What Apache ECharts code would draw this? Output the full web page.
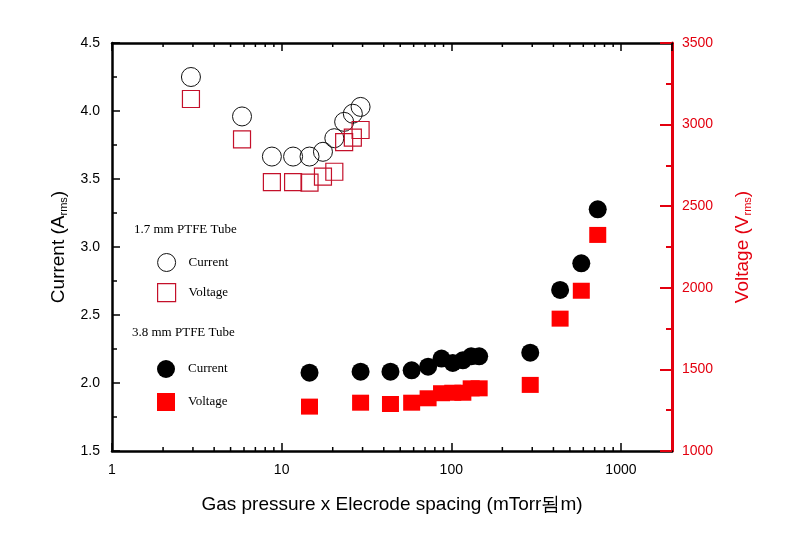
<!DOCTYPE html>
<html>
<head>
<meta charset="utf-8">
<script src="https://cdn.jsdelivr.net/npm/echarts@6/dist/echarts.min.js"></script>
<style>html,body{margin:0;padding:0;background:#fff;}#c{width:802px;height:540px;}</style>
</head>
<body>
<div id="c"></div>
<script>
// 1.7 mm PTFE tube
const x17 = [2.92, 5.84, 8.76, 11.68, 14.6, 17.52, 20.44, 23.36, 26.28, 29.2];
const cur17 = [4.25, 3.96, 3.665, 3.665, 3.665, 3.70, 3.80, 3.92, 3.98, 4.03];
const vol17 = [3157, 2910, 2648, 2648, 2644, 2681, 2711, 2893, 2920, 2967];
// 3.8 mm PTFE tube
const x38 = [14.6, 29.2, 43.8, 58.4, 73, 87.6, 102, 117, 131, 146, 292, 438, 584, 730];
const cur38 = [2.076, 2.083, 2.083, 2.093, 2.12, 2.18, 2.147, 2.167, 2.196, 2.196, 2.223, 2.684, 2.88, 3.277];
const vol38 = [1272, 1296, 1288, 1296, 1323, 1354, 1357, 1357, 1384, 1384, 1405, 1811, 1982, 2324];
// axis ticks
const xMinorTicks = [2,3,4,5,6,7,8,9,20,30,40,50,60,70,80,90,200,300,400,500,600,700,800,900];
const xRange = [1, 2000];
const curRange = [1.5, 4.5];
const volRange = [1000, 3500];

const RED = '#e3000f';
const pair = (xs, ys) => xs.map((x, i) => [x, ys[i]]);

const chart = echarts.init(document.getElementById('c'), null, {renderer: 'canvas'});
const serif = "'Liberation Serif', 'Times New Roman', serif";
const sans = "'Liberation Sans', Arial, sans-serif";

chart.setOption({
  backgroundColor: '#fff',
  animation: false,
  title: [
    {text: '1.7 mm PTFE Tube', left: 134, top: 223, padding: 0,
     textStyle: {fontFamily: serif, fontSize: 13, fontWeight: 'normal', color: '#000'}},
    {text: '3.8 mm PTFE Tube', left: 132, top: 326, padding: 0,
     textStyle: {fontFamily: serif, fontSize: 13, fontWeight: 'normal', color: '#000'}}
  ],
  legend: [
    {left: 157, top: 253, orient: 'vertical', padding: 0, itemWidth: 18, itemHeight: 18, itemGap: 11,
     formatter: n => n.split(' ')[0],
     textStyle: {fontFamily: serif, fontSize: 13, color: '#000', padding: [0, 0, 0, 8]},
     data: [
       {name: 'Current 1.7', icon: 'circle', itemStyle: {color: 'rgba(0,0,0,0)', borderColor: '#111', borderWidth: 1}},
       {name: 'Voltage 1.7', icon: 'rect', itemStyle: {color: 'rgba(0,0,0,0)', borderColor: '#c4102a', borderWidth: 1.2}}
     ]},
    {left: 157, top: 360, orient: 'vertical', padding: 0, itemWidth: 18, itemHeight: 18, itemGap: 15,
     formatter: n => n.split(' ')[0],
     textStyle: {fontFamily: serif, fontSize: 13, color: '#000', padding: [0, 0, 0, 8]},
     data: [
       {name: 'Current 3.8', icon: 'circle', itemStyle: {color: '#000', opacity: 1}},
       {name: 'Voltage 3.8', icon: 'rect', itemStyle: {color: '#ff0000', opacity: 1}}
     ]}
  ],
  grid: {left: 112, right: 130, top: 43, bottom: 89, containLabel: false},
  xAxis: [
    {type: 'log', logBase: 10, min: xRange[0], max: xRange[1], position: 'bottom',
     name: 'Gas pressure x Elecrode spacing (mTorr됨m)', nameLocation: 'middle', nameGap: 44,
     nameTextStyle: {fontFamily: sans, fontSize: 19, color: '#000'},
     axisLine: {lineStyle: {color: '#000', width: 2.5}},
     axisTick: {inside: true, length: 8, lineStyle: {color: '#000', width: 1.5}},
     axisLabel: {fontFamily: sans, fontSize: 14, color: '#000', margin: 12, showMaxLabel: false,
       formatter: v => String(Math.round(v))},
     splitLine: {show: false}},
    {type: 'log', logBase: 10, min: xRange[0], max: xRange[1], position: 'top',
     axisLine: {lineStyle: {color: '#000', width: 2.5}},
     axisTick: {inside: true, length: 8, lineStyle: {color: '#000', width: 1.5}},
     axisLabel: {show: false},
     splitLine: {show: false}}
  ],
  yAxis: [
    {type: 'value', min: curRange[0], max: curRange[1], interval: 0.5, position: 'left',
     name: 'Current (A{sub|rms})', nameLocation: 'middle', nameGap: 41, nameRotate: 90,
     nameTextStyle: {fontFamily: sans, fontSize: 19, color: '#000',
       rich: {sub: {fontFamily: sans, fontSize: 11, color: '#000', padding: [10, 0, 0, 0]}}},
     axisLine: {show: true, lineStyle: {color: '#000', width: 2.5}},
     axisTick: {inside: true, length: 8, lineStyle: {color: '#000', width: 1.5}},
     minorTick: {show: true, splitNumber: 2, length: 5, lineStyle: {color: '#000', width: 1.5}},
     axisLabel: {fontFamily: sans, fontSize: 14, color: '#000', margin: 12, formatter: v => v.toFixed(1)},
     splitLine: {show: false}},
    {type: 'value', min: volRange[0], max: volRange[1], interval: 500, position: 'right',
     name: 'Voltage (V{sub|rms})', nameLocation: 'middle', nameGap: 60, nameRotate: 90,
     nameTextStyle: {fontFamily: sans, fontSize: 19, color: RED,
       rich: {sub: {fontFamily: sans, fontSize: 11, color: RED, padding: [10, 0, 0, 0]}}},
     axisLine: {show: true, lineStyle: {color: RED, width: 3}},
     axisTick: {inside: true, length: 12, lineStyle: {color: RED, width: 2}},
     minorTick: {show: true, splitNumber: 2, length: 6, lineStyle: {color: RED, width: 2}},
     axisLabel: {fontFamily: sans, fontSize: 14, color: RED, margin: 10, formatter: v => String(v)},
     splitLine: {show: false}}
  ],
  series: [
    {name: 'Current 1.7', type: 'scatter', xAxisIndex: 0, yAxisIndex: 0, symbol: 'circle', symbolSize: 19,
     itemStyle: {color: 'rgba(0,0,0,0)', borderColor: '#111', borderWidth: 1, opacity: 1}, data: pair(x17, cur17)},
    {name: 'Voltage 1.7', type: 'scatter', xAxisIndex: 0, yAxisIndex: 1, symbol: 'rect', symbolSize: 17,
     itemStyle: {color: 'rgba(0,0,0,0)', borderColor: '#c4102a', borderWidth: 1.2, opacity: 1}, data: pair(x17, vol17)},
    {name: 'Voltage 3.8', type: 'scatter', xAxisIndex: 0, yAxisIndex: 1, symbol: 'rect', symbolSize: [17, 16],
     itemStyle: {color: '#ff0000', opacity: 1}, data: pair(x38, vol38)},
    {name: 'Current 3.8', type: 'scatter', xAxisIndex: 0, yAxisIndex: 0, symbol: 'circle', symbolSize: 18,
     itemStyle: {color: '#000', opacity: 1}, data: pair(x38, cur38)},
    {name: 'xminor', type: 'custom', xAxisIndex: 0, yAxisIndex: 0, silent: true, clip: false,
     data: xMinorTicks.map(v => [v, curRange[0]]),
     renderItem: (params, api) => {
       const x = api.value(0);
       const b = api.coord([x, curRange[0]]);
       const t = api.coord([x, curRange[1]]);
       return {type: 'group', children: [
         {type: 'line', shape: {x1: b[0], y1: b[1], x2: b[0], y2: b[1] - 4}, style: {stroke: '#000', lineWidth: 1.5}},
         {type: 'line', shape: {x1: t[0], y1: t[1], x2: t[0], y2: t[1] + 4}, style: {stroke: '#000', lineWidth: 1.5}}
       ]};
     }}
  ]
});
</script>
</body>
</html>
